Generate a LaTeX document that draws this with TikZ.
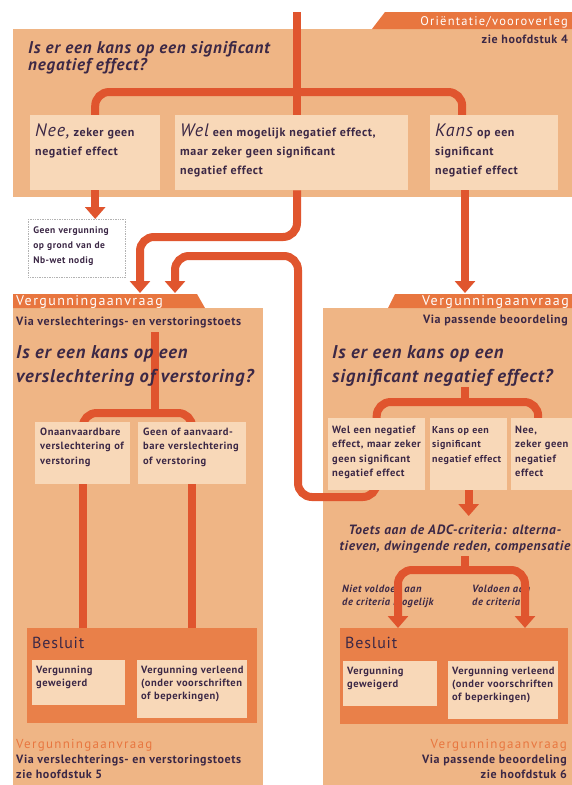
\documentclass[tikz,border=0pt]{standalone}
\usepackage{fontspec}
\setmainfont[LetterSpace=5]{PT Sans}
\newfontfamily\tabfont[LetterSpace=10]{PT Sans}
\usetikzlibrary{arrows.meta}
\pgfdeclarelayer{bg}
\pgfdeclarelayer{lines}
\pgfsetlayers{bg,lines,main}
\definecolor{panelfill}{HTML}{EFB585}
\definecolor{boxfill}{HTML}{F8D8B8}
\definecolor{flowline}{HTML}{E0552E}
\definecolor{tabfill}{HTML}{E8763F}
\definecolor{besluitfill}{HTML}{E98049}
\definecolor{ink}{HTML}{3C2846}
\newcommand\bigword{\fontsize{18}{19}\selectfont\mdseries\itshape}
\begin{document}
\begin{tikzpicture}[x=1pt,y=-1pt,
    flow/.style={draw=flowline,line width=8pt,rounded corners=14pt},
    arrowtip/.style={-{Triangle[width=20pt,length=12pt]}},
    twotips/.style={{Triangle[width=20pt,length=12pt]}-{Triangle[width=20pt,length=12pt]}},
    tabtext/.style={anchor=base west,text=white,inner sep=0pt,font=\tabfont\fontsize{14}{15}\selectfont},
    tbox/.style={fill=boxfill,anchor=north west,align=left,text=ink,inner xsep=5pt,inner ysep=4pt},
    besluit/.style={fill=besluitfill,anchor=north west,align=left,text=ink,inner xsep=5pt,inner ysep=6pt,text height=14pt,font=\fontsize{16}{16}\selectfont},
    question/.style={anchor=base west,align=left,text=ink,inner sep=0pt,font=\fontsize{18.5}{24}\selectfont\bfseries\itshape},
    smalltext/.style={anchor=base west,align=left,text=ink,inner sep=0pt,font=\fontsize{12}{15}\selectfont\bfseries},
  ]
  \useasboundingbox (0,0) rectangle (572,785);

  % panels and tabs
  \begin{pgfonlayer}{bg}
    \fill[white] (0,0) rectangle (572,785);
    \fill[panelfill] (13,29) rectangle (580,197);
    \fill[tabfill] (372,29) -- (385,12) -- (580,12) -- (580,29) -- cycle;
    \fill[panelfill] (13,308) rectangle (263,790);
    \fill[tabfill] (13,308) -- (13,294) -- (197,294) -- (205,308) -- cycle;
    \fill[panelfill] (323,308) rectangle (580,790);
    \fill[tabfill] (388,308) -- (395,294) -- (580,294) -- (580,308) -- cycle;
    % criteria labels lie under the lines
    \node[question,font=\fontsize{10.5}{13}\selectfont\bfseries\itshape] (niet) at (342,605) {Niet voldoen aan\\de criteria mogelijk};
    \node[question,font=\fontsize{10.5}{13}\selectfont\bfseries\itshape] (voldoen) at (472,605) {Voldoen aan\\de criteria};
  \end{pgfonlayer}

  \node[tabtext,anchor=base east,font=\tabfont\fontsize{12.5}{15}\selectfont] (orient) at (568,25) {Oriëntatie/vooroverleg};
  \node[smalltext,anchor=base east] (hfd4) at (568,43) {zie hoofdstuk 4};
  \node[tabtext] (tabL) at (16,305) {Vergunningaanvraag};
  \node[smalltext] (viaL) at (16,325) {Via verslechterings- en verstoringstoets};
  \node[tabtext,anchor=base east] (tabR) at (569,305) {Vergunningaanvraag};
  \node[smalltext,anchor=base east] (viaR) at (568,323) {Via passende beoordeling};

  % questions
  \node[question,font=\fontsize{17}{17}\selectfont\bfseries\itshape] (vraag0) at (28,70) {Is er een kans op een significant\\negatief effect?};
  \node[question] (vraagL) at (16,382) {Is er een kans op een\\verslechtering of verstoring?};
  \node[question] (vraagR) at (332,382) {Is er een kans op een\\significant negatief effect?};

  % boxes
  \begin{scope}[font=\fontsize{12}{19}\selectfont\bfseries]
    \node[tbox,text width=120pt,text height=17pt,text depth=50pt] (nee) at (30,115) {{\bigword Nee,} zeker geen\\negatief effect};
    \node[tbox,text width=223pt,text height=17pt,text depth=50pt] (wel) at (175,115) {{\bigword Wel} een mogelijk negatief effect,\\maar zeker geen significant\\negatief effect};
    \node[tbox,text width=118pt,text height=17pt,text depth=50pt] (kans) at (430,115) {{\bigword Kans} op een\\significant\\negatief effect};
  \end{scope}
  \node[tbox,fill=white,draw=gray!60,densely dotted,line width=0.7pt,text width=87pt,text height=10pt,text depth=40pt,font=\fontsize{9.5}{15}\selectfont\bfseries] (geen) at (28,219) {Geen vergunning\\op grond van de\\Nb-wet nodig};
  \begin{scope}[font=\fontsize{10.5}{14.5}\selectfont\bfseries]
    \node[tbox,text width=85pt,text height=9pt,text depth=45pt] (onaan) at (35,422) {Onaanvaardbare\\verslechtering of\\verstoring};
    \node[tbox,text width=98pt,text height=9pt,text depth=45pt] (geenof) at (138,422) {Geen of aanvaard-\\bare verslechtering\\of verstoring};
    \node[tbox,inner xsep=4pt,text width=89pt,text height=11pt,text depth=53pt] (welneg) at (328,418) {Wel een negatief\\effect, maar zeker\\geen significant\\negatief effect};
    \node[tbox,inner xsep=2pt,text width=73pt,text height=11pt,text depth=53pt,font=\fontsize{10}{14.5}\selectfont\bfseries] (kansop) at (430,418) {Kans op een\\significant\\\mbox{negatief effect}};
    \node[tbox,inner xsep=4pt,text width=56pt,text height=11pt,text depth=53pt] (neeR) at (511,418) {Nee,\\zeker geen\\negatief\\effect};
  \end{scope}

  \node[question,anchor=base,align=center,font=\fontsize{13.5}{16}\selectfont\bfseries\itshape] (adc) at (455,550) {Toets aan de ADC-criteria: alterna-\\tieven, dwingende reden, compensatie};

  % besluit
  \node[besluit,text width=220pt,text depth=69pt] (besL) at (27,628) {Besluit};
  \node[besluit,text width=218pt,text depth=70pt] (besR) at (340,628) {Besluit};
  \begin{scope}[font=\fontsize{10.5}{13}\selectfont\bfseries]
    \node[tbox,inner xsep=4pt,text width=85pt,text height=9pt,text depth=28pt] (weigL) at (32,660) {Vergunning\\geweigerd};
    \node[tbox,inner xsep=4pt,text width=102pt,text height=9pt,text depth=41pt] (verlL) at (137,660) {Vergunning verleend\\(onder voorschriften\\of beperkingen)};
    \node[tbox,inner xsep=4pt,text width=86pt,text height=9pt,text depth=28pt] (weigR) at (343,661) {Vergunning\\geweigerd};
    \node[tbox,inner xsep=4pt,text width=102pt,text height=9pt,text depth=41pt] (verlR) at (448,661) {Vergunning verleend\\(onder voorschriften\\of beperkingen)};
  \end{scope}

  % footers
  \node[tabtext,text=tabfill,font=\tabfont\fontsize{13}{15}\selectfont] (footL1) at (16,748) {Vergunningaanvraag};
  \node[smalltext] (footL2) at (16,763) {Via verslechterings- en verstoringstoets};
  \node[smalltext] (footL3) at (16,778) {zie hoofdstuk 5};
  \node[tabtext,anchor=base east,text=tabfill,font=\tabfont\fontsize{13}{15}\selectfont] (footR1) at (567,748) {Vergunningaanvraag};
  \node[smalltext,anchor=base east] (footR2) at (567,763) {Via passende beoordeling};
  \node[smalltext,anchor=base east] (footR3) at (567,778) {zie hoofdstuk 6};

  \coordinate (start) at (297,12);
  \coordinate (split) at (297,92);
  \coordinate (bendA) at (297,237);
  \coordinate (bendB) at (298,256);
  \coordinate (loopB) at (298,497);
  \coordinate (inA) at (140,293);
  \coordinate (inB) at (175,293);
  \coordinate (inC) at (465,293);
  \coordinate (qL) at (155,332);
  \coordinate (splitL) at (155,413);
  \coordinate (qR) at (465,387);
  \coordinate (splitR) at (465,402);
  \coordinate (adcIn) at (467,516);
  \coordinate (adcOut) at (465,556);
  \coordinate (critL) at (398,570);
  \coordinate (critR) at (525,570);

  % connectors, under the boxes
  \begin{pgfonlayer}{lines}
    \draw[flow] (start) -- (split) -- (wel.center -| split);
    \draw[flow] (nee.center) |- (split) -| ([xshift=-32pt]kans.center);
    \draw[flow,arrowtip] (nee.south) -- (nee.south |- geen.north);
    \draw[flow,arrowtip] (wel.south -| split) -- (bendA) -| (inA);
    \draw[flow,arrowtip] ([yshift=20pt]welneg.south) |- (loopB) -- (bendB) -| (inB);
    \draw[flow,arrowtip] (kans.south -| inC) -- (inC);
    \draw[flow] (qL) -- (splitL);
    \draw[flow] (onaan.center) |- (splitL) -| (geenof.center);
    \draw[flow] (onaan.south) -- (onaan.south |- besL.north);
    \draw[flow] (geenof.south) -- (geenof.south |- besL.north);
    \draw[flow] (qR) -- (splitR);
    \draw[flow] (welneg.center) |- (splitR) -| ([xshift=-5pt]neeR.center);
    \draw[flow,arrowtip] (kansop.south) -- (kansop.south |- adcIn);
    \draw[flow] (adcOut) -- (adcOut |- critL);
    \draw[flow,twotips] (critL |- besR.north) |- (critR) -- (critR |- besR.north);
  \end{pgfonlayer}
\end{tikzpicture}
\end{document}
